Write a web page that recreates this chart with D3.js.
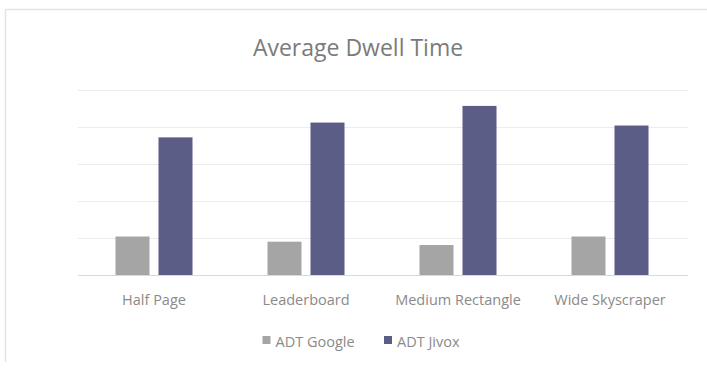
<!DOCTYPE html>
<html>
<head>
<meta charset="utf-8">
<script src="https://cdn.jsdelivr.net/npm/d3@7/dist/d3.min.js"></script>
<style>
  html, body { margin: 0; padding: 0; background: #ffffff; }
  svg { display: block; font-family: "Open Sans", "Noto Sans", sans-serif; }
</style>
</head>
<body>
<svg id="chart" width="707" height="369"></svg>
<script>
// Average dwell time per ad format
const categories = ["Half Page", "Leaderboard", "Medium Rectangle", "Wide Skyscraper"];
const seriesNames = ["ADT Google", "ADT Jivox"];
const adtGoogle = [10.4, 9.0, 8.1, 10.4];
const adtJivox = [37.2, 41.2, 45.7, 40.4];
const gridTicks = [0, 10, 20, 30, 40, 50];
const seriesColors = ["#a5a5a5", "#5b5d86"];

const seriesValues = [adtGoogle, adtJivox];
const rows = categories.map((c, i) => ({
  category: c,
  values: seriesNames.map((s, j) => ({ series: s, value: seriesValues[j][i] }))
}));

const svg = d3.select("#chart");

// chart area frame (top and left edges)
svg.append("line").attr("x1", 5.5).attr("x2", 707).attr("y1", 9.5).attr("y2", 9.5)
  .attr("stroke", "#e4e4e4").attr("stroke-width", 1.5);
svg.append("line").attr("x1", 5.5).attr("x2", 5.5).attr("y1", 9.5).attr("y2", 362)
  .attr("stroke", "#e4e4e4").attr("stroke-width", 1.5);

const x = d3.scaleBand().domain(categories).range([78, 686]).paddingInner(0).paddingOuter(0);
const xInner = d3.scaleBand().domain(seriesNames)
  .range([x.bandwidth() / 2 - 38.5, x.bandwidth() / 2 + 38.5])
  .paddingInner(9 / 43).paddingOuter(0);
const y = d3.scaleLinear().domain([0, 50]).range([275, 90]);
const color = d3.scaleOrdinal().domain(seriesNames).range(seriesColors);

// horizontal gridlines
const grid = svg.append("g").attr("class", "grid")
  .call(d3.axisLeft(y).tickValues(gridTicks).tickSize(0).tickFormat(""));
grid.select(".domain").remove();
grid.selectAll(".tick line")
  .attr("x1", 78).attr("x2", 688)
  .attr("stroke", d => d === 0 ? "#d9d9d9" : "#ececec")
  .attr("stroke-width", 1.2);

// title
svg.append("text")
  .attr("x", 358).attr("y", 55.5)
  .attr("text-anchor", "middle")
  .attr("font-size", 23)
  .attr("fill", "#7b7b7b")
  .text("Average Dwell Time");

// bars
const groups = svg.append("g").selectAll("g.group")
  .data(rows).join("g")
  .attr("class", "group")
  .attr("transform", d => "translate(" + x(d.category) + ",0)");

groups.selectAll("rect")
  .data(d => d.values).join("rect")
  .attr("x", d => xInner(d.series))
  .attr("width", xInner.bandwidth())
  .attr("y", d => y(d.value))
  .attr("height", d => y(0) - y(d.value))
  .attr("fill", d => color(d.series));

// category axis labels
const xAxis = svg.append("g")
  .attr("transform", "translate(0,275)")
  .call(d3.axisBottom(x).tickSize(0).tickPadding(20));
xAxis.select(".domain").remove();
xAxis.selectAll("text")
  .attr("font-family", "'Open Sans', sans-serif")
  .attr("font-size", 14.5)
  .attr("fill", "#8a8a8a");

// legend
const legendX = [262.5, 384];
const legend = svg.append("g").selectAll("g.legend")
  .data(seriesNames).join("g")
  .attr("class", "legend")
  .attr("transform", (d, i) => "translate(" + legendX[i] + ",336)");
legend.append("rect")
  .attr("width", 8).attr("height", 8)
  .attr("fill", d => color(d));
legend.append("text")
  .attr("x", 13).attr("y", 11)
  .attr("font-size", 14.5)
  .attr("fill", "#8a8a8a")
  .text(d => d);
</script>
</body>
</html>
